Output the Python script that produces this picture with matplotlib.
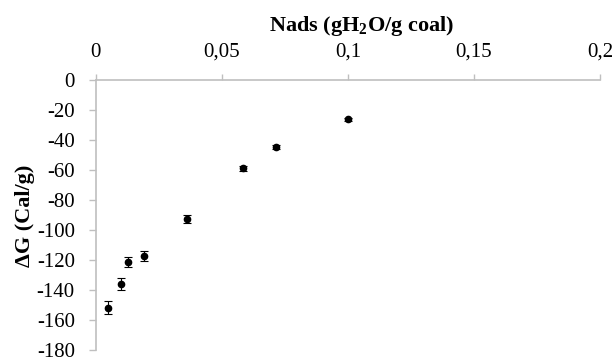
import matplotlib
matplotlib.use("Agg")
import matplotlib.pyplot as plt
from matplotlib.ticker import FixedLocator, FuncFormatter

plt.rcParams['font.family'] = ['Liberation Serif', 'DejaVu Serif']
plt.rcParams['mathtext.fontset'] = 'custom'
plt.rcParams['mathtext.rm'] = 'Liberation Serif'
plt.rcParams['mathtext.bf'] = 'Liberation Serif:bold'
plt.rcParams['mathtext.it'] = 'Liberation Serif:italic'

# Data
nads = [0.0048, 0.0102, 0.0129, 0.0193, 0.0361, 0.0586, 0.0715, 0.1000]
delta_g = [-151.9, -135.7, -121.3, -117.3, -92.5, -58.9, -44.5, -26.1]
err = [4.4, 4.0, 3.5, 3.3, 2.8, 1.5, 1.2, 1.0]
x_ticks = [0, 0.05, 0.1, 0.15, 0.2]
y_ticks = [0, -20, -40, -60, -80, -100, -120, -140, -160, -180]

W, H = 614, 361
fig = plt.figure(figsize=(W / 100, H / 100), dpi=100)
left, right, top, bottom = 95.7, 600, 80, 350
ax = fig.add_axes([left / W, 1 - bottom / H, (right - left) / W, (bottom - top) / H])

ax.errorbar(nads, delta_g, yerr=err, fmt='o', color='black', ms=4.5,
            ecolor='black', elinewidth=0.8, capsize=3, capthick=0.8)

ax.set_xlim(0, 0.2)
ax.set_ylim(-180, 0)
ax.xaxis.set_major_locator(FixedLocator(x_ticks))
ax.yaxis.set_major_locator(FixedLocator(y_ticks))
ax.xaxis.set_major_formatter(FuncFormatter(lambda v, p: ('%g' % v).replace('.', ',')))
ax.yaxis.set_major_formatter(FuncFormatter(lambda v, p: '%d' % v))

ax.xaxis.tick_top()
for s in ['right', 'bottom']:
    ax.spines[s].set_visible(False)
for s in ['left', 'top']:
    ax.spines[s].set_color('#bfbfbf')
    ax.spines[s].set_linewidth(1.2)

ax.tick_params(axis='x', which='both', direction='out', length=4, width=1,
               color='#bfbfbf', labelsize=15, pad=9)
ax.tick_params(axis='y', which='both', direction='out', length=5, width=1,
               color='#bfbfbf', labelsize=15, pad=10)

fig.text(362 / W, 1 - 26 / H, r'Nads (gH$_\mathbf{2}$O/g coal)', ha='center', va='center',
         fontsize=16, fontweight='bold')
fig.text(25 / W, 1 - 216 / H, 'ΔG (Cal/g)', ha='center', va='center', rotation=90,
         fontsize=16, fontweight='bold')

fig.savefig('out.png', dpi=100)
